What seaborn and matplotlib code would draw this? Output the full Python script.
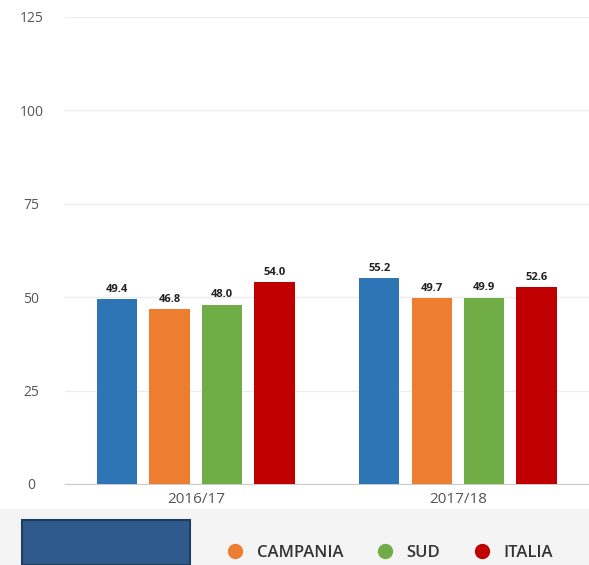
import pandas as pd
import numpy as np
import matplotlib.pyplot as plt
import matplotlib.patches as mpatches
from matplotlib.lines import Line2D
import seaborn as sns

# data
anni = ['2016/17', '2017/18']
serie = ['NASCOSTA', 'CAMPANIA', 'SUD', 'ITALIA']  # first name is covered in the original
valori = {
    'NASCOSTA': [49.4, 55.2],
    'CAMPANIA': [46.8, 49.7],
    'SUD': [48.0, 49.9],
    'ITALIA': [54.0, 52.6],
}
colori = ['#2e75b6', '#ed7d31', '#70ad47', '#c00000']
yticks = [0, 25, 50, 75, 100, 125]

df = pd.DataFrame([(a, s, valori[s][i]) for s in serie for i, a in enumerate(anni)],
                  columns=['anno', 'serie', 'valore'])

sns.set_style('white')
plt.rcParams['font.family'] = ['Open Sans', 'DejaVu Sans']

fig = plt.figure(figsize=(5.89, 5.65), dpi=100)
# light band behind the legend
fig.patches.append(mpatches.Rectangle((0, 0), 1, 0.10, transform=fig.transFigure,
                                      facecolor='#f4f4f4', edgecolor='none', zorder=0))
ax = fig.add_axes([0.110, 0.1434, 0.890, 0.8266])

sns.barplot(data=df, x='anno', y='valore', hue='serie', hue_order=serie,
            palette=colori, saturation=1, width=0.8, gap=0.23, linewidth=0,
            legend=False, ax=ax, zorder=3)

for cont in ax.containers:
    ax.bar_label(cont, fmt='%.1f', padding=3, fontsize=8, fontweight='bold', color='#222222')

ax.set_ylim(0, 125)
ax.set_xlim(-0.5, 1.5)
ax.set_yticks(yticks)
ax.set_yticklabels([str(v) for v in yticks], ha='center')
ax.tick_params(axis='y', length=0, pad=24, labelsize=10, labelcolor='#555555')
ax.tick_params(axis='x', length=0, pad=6, labelsize=11, labelcolor='#555555')
ax.set_xticks([-0.5, 0.5, 1.5], minor=True)
ax.tick_params(axis='x', which='minor', length=10, color='#dddddd', width=1)
ax.grid(axis='y', color='#ececec', linewidth=1, zorder=0)
for s in ['left', 'right', 'top']:
    ax.spines[s].set_visible(False)
ax.spines['bottom'].set_color('#cccccc')
ax.set_xlabel('')
ax.set_ylabel('')

# legend (first entry is covered by a dark box in the original)
handles = [Line2D([], [], marker='o', linestyle='', markersize=10, color=c) for c in colori[1:]]
fig.legend(handles, serie[1:], loc='center', bbox_to_anchor=(0.655, 0.021), ncol=3,
           frameon=False, prop={'size': 12, 'weight': 'semibold'}, handletextpad=0.3,
           columnspacing=1.5, labelcolor='#333333')
fig.patches.append(mpatches.Rectangle((22 / 589, 0), 168 / 589, 45 / 565, transform=fig.transFigure,
                                      facecolor='#2f5b8c', edgecolor='#1f3d5e', linewidth=1.5, zorder=5))

fig.savefig('out.png', dpi=100)
